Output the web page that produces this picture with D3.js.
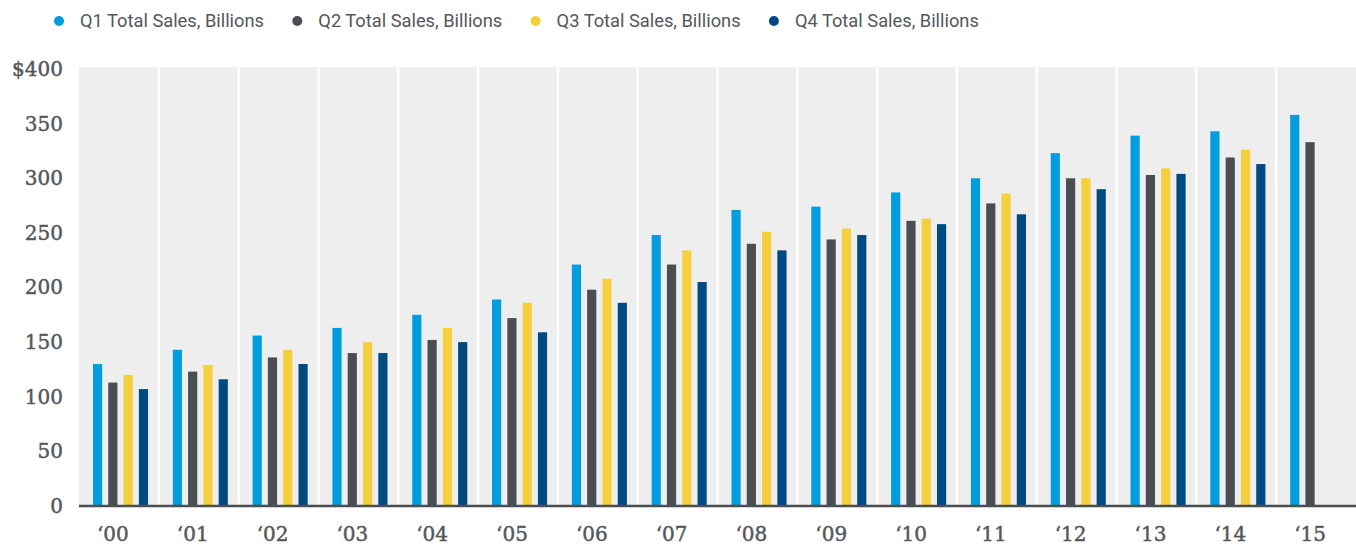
<!DOCTYPE html>
<html>
<head>
<meta charset="utf-8">
<script src="https://cdn.jsdelivr.net/npm/d3@7.9.0/dist/d3.min.js"></script>
<style>
  body { margin: 0; background: #fff; }
  svg { display: block; }
  .ylab, .xlab { font-family: 'DejaVu Serif', 'Liberation Serif', serif; fill: #54575c; stroke: #54575c; stroke-width: 0.45px; }
  .leg { font-family: 'Roboto', 'Liberation Sans', sans-serif; fill: #54575c; }
</style>
</head>
<body>
<div id="chart"></div>
<script>
// data
const years = ['00','01','02','03','04','05','06','07','08','09','10','11','12','13','14','15'];
const seriesNames = ['Q1 Total Sales, Billions', 'Q2 Total Sales, Billions', 'Q3 Total Sales, Billions', 'Q4 Total Sales, Billions'];
const q1 = [130, 143, 156, 163, 175, 189, 221, 248, 271, 274, 287, 300, 323, 339, 343, 358];
const q2 = [113, 123, 136, 140, 152, 172, 198, 221, 240, 244, 261, 277, 300, 303, 319, 333];
const q3 = [120, 129, 143, 150, 163, 186, 208, 234, 251, 254, 263, 286, 300, 309, 326, null];
const q4 = [107, 116, 130, 140, 150, 159, 186, 205, 234, 248, 258, 267, 290, 304, 313, null];
const yTicks = [0, 50, 100, 150, 200, 250, 300, 350, 400];
const colors = ['#009ddf', '#4a4d52', '#f6cf3c', '#004a82'];

const width = 1356;
const height = 548;
const margin = { top: 67, right: 0, bottom: 42, left: 79 };

const svg = d3.select('#chart')
  .append('svg')
  .attr('width', width)
  .attr('height', height);

const x0 = d3.scaleBand()
  .domain(years)
  .range([margin.left, width - margin.right])
  .padding(0);

const x1 = d3.scaleBand()
  .domain([0, 1, 2, 3])
  .range([x0.bandwidth() * 0.175, x0.bandwidth() * 0.865])
  .paddingInner(0.4)
  .paddingOuter(0);

const y = d3.scaleLinear()
  .domain([0, 400])
  .range([height - margin.bottom, 69]);

// plot background
svg.append('rect')
  .attr('x', margin.left)
  .attr('y', margin.top)
  .attr('width', width - margin.right - margin.left)
  .attr('height', y(0) - margin.top)
  .attr('fill', '#eeeeee');

// white separators between years
svg.append('g')
  .selectAll('line')
  .data(years.slice(1))
  .join('line')
  .attr('x1', d => x0(d))
  .attr('x2', d => x0(d))
  .attr('y1', margin.top)
  .attr('y2', y(0))
  .attr('stroke', '#fff')
  .attr('stroke-width', 2.5);

// bars
const rows = years.map((yr, i) => ({ yr, vals: [q1[i], q2[i], q3[i], q4[i]] }));

svg.append('g')
  .selectAll('g')
  .data(rows)
  .join('g')
  .attr('transform', d => `translate(${x0(d.yr)},0)`)
  .selectAll('rect')
  .data(d => d.vals.map((v, k) => ({ k, v })).filter(d => d.v != null))
  .join('rect')
  .attr('x', d => x1(d.k))
  .attr('width', x1.bandwidth())
  .attr('y', d => y(d.v))
  .attr('height', d => y(0) - y(d.v))
  .attr('fill', d => colors[d.k]);

// baseline
svg.append('line')
  .attr('x1', margin.left)
  .attr('x2', width - margin.right)
  .attr('y1', y(0))
  .attr('y2', y(0))
  .attr('stroke', '#4a4d52')
  .attr('stroke-width', 2.5);

// y axis labels
const yAxis = d3.axisLeft(y)
  .tickValues(yTicks)
  .tickSize(0)
  .tickPadding(16)
  .tickFormat(d => d === 400 ? '$400' : d);

svg.append('g')
  .attr('transform', `translate(${margin.left},0)`)
  .call(yAxis)
  .call(g => g.select('.domain').remove())
  .call(g => g.selectAll('text')
    .attr('class', 'ylab')
    .attr('fill', null)
    .style('font-size', '20px'));

// x axis labels
const xAxis = d3.axisBottom(x0)
  .tickSize(0)
  .tickPadding(21)
  .tickFormat(d => '\u2018' + d);

svg.append('g')
  .attr('transform', `translate(-6,${y(0)})`)
  .call(xAxis)
  .call(g => g.select('.domain').remove())
  .call(g => g.selectAll('text')
    .attr('class', 'xlab')
    .attr('fill', null)
    .style('font-size', '20px'));

// legend
const legend = svg.append('g')
  .selectAll('g')
  .data(seriesNames)
  .join('g')
  .attr('transform', (d, i) => `translate(${59 + i * 238.3},21)`);

legend.append('circle')
  .attr('r', 5)
  .attr('fill', (d, i) => colors[i]);

legend.append('text')
  .attr('class', 'leg')
  .attr('x', 21)
  .attr('dy', '0.35em')
  .attr('textLength', 184)
  .attr('lengthAdjust', 'spacingAndGlyphs')
  .style('font-size', '18px')
  .text(d => d);
</script>
</body>
</html>
